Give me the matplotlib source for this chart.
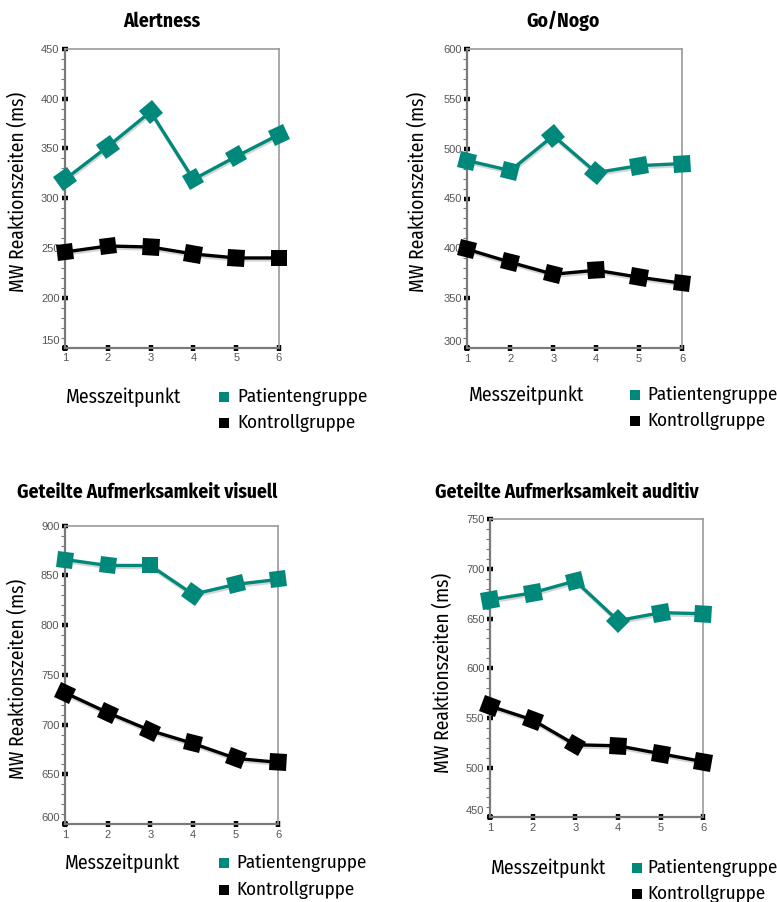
import math
import matplotlib
matplotlib.use("Agg")
import matplotlib.pyplot as plt
from matplotlib.markers import MarkerStyle
from matplotlib.transforms import Affine2D, ScaledTranslation
from matplotlib.patches import Rectangle
import matplotlib.patheffects as pe

# ---------------- data ----------------
messzeitpunkt = [1, 2, 3, 4, 5, 6]

alert_patient = [319, 352, 387, 319, 342, 364]
alert_kontroll = [246, 252, 251, 244, 240, 240]

gonogo_patient = [488, 478, 513, 476, 483, 485]
gonogo_kontroll = [399, 386, 374, 378, 371, 365]

visuell_patient = [866, 860, 860, 831, 841, 846]
visuell_kontroll = [732, 712, 694, 681, 666, 662]

auditiv_patient = [669, 676, 688, 648, 656, 655]
auditiv_kontroll = [562, 548, 523, 522, 514, 506]

titles = ["Alertness", "Go/Nogo",
          "Geteilte Aufmerksamkeit visuell", "Geteilte Aufmerksamkeit auditiv"]
ylims = [(150, 450), (300, 600), (600, 900), (450, 750)]
ylabel = "MW Reaktionszeiten (ms)"
xlabel = "Messzeitpunkt"
legend_labels = ["Patientengruppe", "Kontrollgruppe"]

# ---------------- style ----------------
W, H = 777, 902
TEAL = "#00897B"
FONT = ["Fira Sans Condensed", "DejaVu Sans"]
TICKFONT = ["Liberation Sans", "DejaVu Sans"]

fig = plt.figure(figsize=(W / 100, H / 100), dpi=100)
fig.patch.set_facecolor("white")


def fx(px):
    return px / W


def fy(py):
    return 1 - py / H


# axes boxes in pixel (left, top, right, bottom)
boxes = [(65, 49, 279, 347.5), (467.5, 49, 682, 348),
         (65, 525.7, 278.3, 824), (490, 519.3, 703.3, 817.3)]
series = [(alert_patient, alert_kontroll), (gonogo_patient, gonogo_kontroll),
          (visuell_patient, visuell_kontroll), (auditiv_patient, auditiv_kontroll)]

title_pos = [(162, 21, "center"), (563, 21, "center"), (17, 492, "left"), (435, 492, "left")]
ylabel_pos = [(18, 192), (418, 192), (18, 679), (443, 673)]
xlabel_pos = [(66, 397), (469, 395), (65, 863), (491, 868)]
legend_pos = [(224, 397, 237, 26), (635, 395, 647, 26), (224, 863, 236, 27), (637, 868, 647, 26)]

for k in range(4):
    l, t, r, b = boxes[k]
    ax = fig.add_axes([fx(l), fy(b), fx(r) - fx(l), fy(t) - fy(b)])
    ax.set_xlim(1, 6)
    ax.set_ylim(*ylims[k])
    ax.set_xticks(messzeitpunkt)
    lo, hi = ylims[k]
    ax.set_yticks(range(lo, hi + 1, 50))
    ax.set_yticks(range(lo, hi + 1, 10), minor=True)
    for s in ["top", "right"]:
        ax.spines[s].set_color("#9a9a9a")
        ax.spines[s].set_linewidth(1.2)
    for s in ["left", "bottom"]:
        ax.spines[s].set_color("#7a7a7a")
        ax.spines[s].set_linewidth(1.6)
    ax.tick_params(which="major", direction="inout", length=4, width=3.2, color="black",
                   labelsize=8, labelcolor="#555555", pad=2)
    ax.tick_params(axis="x", which="minor", bottom=False)
    ax.tick_params(axis="y", which="minor", direction="out", length=3, width=0.8, color="#777777")
    for lab in ax.get_xticklabels() + ax.get_yticklabels():
        lab.set_fontfamily(TICKFONT)
    # bottom y tick label sits slightly higher
    ylabs = ax.get_yticklabels()
    ylabs[0].set_transform(ylabs[0].get_transform() +
                           ScaledTranslation(0, 7 / 100, fig.dpi_scale_trans))

    for vals, col in zip(series[k], [TEAL, "black"]):
        ax.plot(messzeitpunkt, vals, color=col, lw=2.4, clip_on=False, zorder=3,
                solid_joinstyle="miter",
                path_effects=[pe.SimpleLineShadow(offset=(0.5, -1.5), shadow_color="#888888", alpha=0.35),
                              pe.Normal()])
        disp = ax.transData.transform(list(zip(messzeitpunkt, vals)))
        for i in range(len(vals)):
            j0, j1 = (0, 1) if i == 0 else (i - 1, i)
            ang = math.degrees(math.atan2(disp[j1][1] - disp[j0][1], disp[j1][0] - disp[j0][0]))
            m = MarkerStyle("s", transform=Affine2D().rotate_deg(ang))
            ax.plot([messzeitpunkt[i]], [vals[i]], linestyle="none", marker=m,
                    markersize=12, color=col, markeredgewidth=0, clip_on=False, zorder=4)

    tx, ty, ha = title_pos[k]
    fig.text(fx(tx), fy(ty), titles[k], ha=ha, va="center", fontsize=14,
             fontweight="bold", family=FONT)
    yx, yy = ylabel_pos[k]
    fig.text(fx(yx), fy(yy), ylabel, rotation=90, ha="center", va="center",
             fontsize=14, family=FONT)
    mx, my = xlabel_pos[k]
    fig.text(fx(mx), fy(my), xlabel, ha="left", va="center", fontsize=14, family=FONT)
    sx, sy, txx, dy = legend_pos[k]
    for n, (lab, col) in enumerate(zip(legend_labels, [TEAL, "black"])):
        cy = sy + n * dy
        fig.patches.append(Rectangle((fx(sx - 5), fy(cy + 5)), 10 / W, 10 / H,
                                     transform=fig.transFigure, facecolor=col,
                                     edgecolor="none", figure=fig))
        fig.text(fx(txx), fy(cy), lab, ha="left", va="center", fontsize=13.7, family=FONT)

fig.savefig("out.png", dpi=100, facecolor="white")
